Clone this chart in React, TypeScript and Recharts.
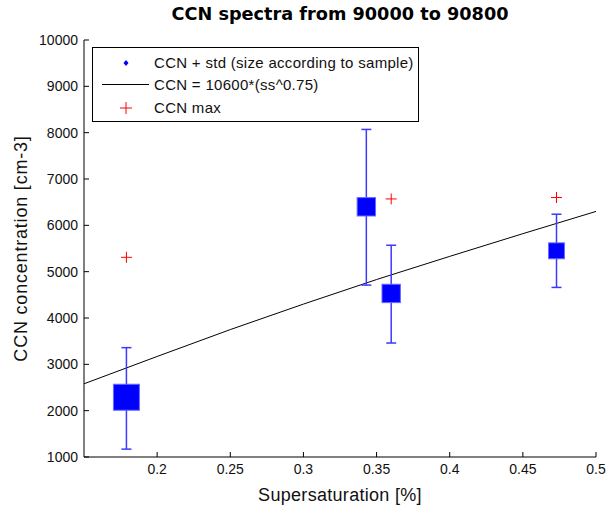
import React from "react";
import {
  ComposedChart,
  Scatter,
  Line,
  XAxis,
  YAxis,
  ZAxis,
  ErrorBar,
  Label,
} from "recharts";

// mean CCN per supersaturation step, with std spread and sample count
const supersat = [0.179, 0.343, 0.36, 0.473];
const ccnMean = [2290, 6400, 4530, 5450];
const ccnStdLow = [1120, 1690, 1070, 790];
const ccnStdHigh = [1070, 1670, 1040, 790];
const sampleCount = [40, 20, 20, 15];

// max CCN observed
const maxSupersat = [0.179, 0.36, 0.473];
const ccnMax = [5310, 6570, 6600];

// fitted curve CCN = 10600*(ss^0.75)
const fitSupersat = [0.15, 0.2, 0.25, 0.3, 0.35, 0.4, 0.45, 0.5];
const fitCcn = [2580, 3170, 3750, 4300, 4830, 5330, 5820, 6300];

const xTicks = [0.2, 0.25, 0.3, 0.35, 0.4, 0.45, 0.5];
const yTicks = [1000, 2000, 3000, 4000, 5000, 6000, 7000, 8000, 9000, 10000];

const FONT = "'Liberation Sans', Arial, Helvetica, sans-serif";
const TICK_MARGIN = 6;
const IN = 5;

const meanData = supersat.map((x, i) => ({
  x,
  y: ccnMean[i],
  n: sampleCount[i],
  err: [ccnStdLow[i], ccnStdHigh[i]],
}));
const maxData = maxSupersat.map((x, i) => ({ x, y: ccnMax[i] }));
const fitData = fitSupersat.map((x, i) => ({ x, y: fitCcn[i] }));

function BottomTick({ x, y, payload }: any) {
  const axisY = y - TICK_MARGIN;
  return (
    <g>
      <line x1={x} x2={x} y1={axisY} y2={axisY - IN} stroke="#000" />
      <text x={x} y={y} dy="0.75em" textAnchor="middle" fontSize={14} fontFamily={FONT} fill="#111">
        {payload.value}
      </text>
    </g>
  );
}

function LeftTick({ x, y, payload }: any) {
  const axisX = x + TICK_MARGIN;
  return (
    <g>
      <line x1={axisX} x2={axisX + IN} y1={y} y2={y} stroke="#000" />
      <text x={x} y={y} dy="0.36em" textAnchor="end" fontSize={14} fontFamily={FONT} fill="#111">
        {payload.value}
      </text>
    </g>
  );
}

function TopTick({ x, y }: any) {
  const axisY = y + TICK_MARGIN;
  return <line x1={x} x2={x} y1={axisY} y2={axisY + IN} stroke="#000" />;
}

function RightTick({ x, y }: any) {
  const axisX = x - TICK_MARGIN;
  return <line x1={axisX} x2={axisX - IN} y1={y} y2={y} stroke="#000" />;
}

function SquareShape(props: any) {
  const { cx, cy, width } = props;
  if (cx == null || cy == null) return null;
  const s = width;
  return <rect x={cx - s / 2} y={cy - s / 2} width={s} height={s} fill="#0000ff" stroke="#6a6aff" strokeWidth={1} />;
}

function PlusShape(props: any) {
  const { cx, cy } = props;
  if (cx == null || cy == null) return null;
  const r = 5.5;
  return (
    <g stroke="#ff0000" strokeWidth={1}>
      <line x1={cx - r} x2={cx + r} y1={cy} y2={cy} />
      <line x1={cx} x2={cx} y1={cy - r} y2={cy + r} />
    </g>
  );
}

function LegendBox() {
  const row = {
    position: "absolute" as const,
    left: 61,
    fontSize: 15,
    letterSpacing: 0.3,
    fontFamily: FONT,
    color: "#111",
    lineHeight: "17px",
    whiteSpace: "nowrap" as const,
  };
  return (
    <div
      style={{
        position: "absolute",
        left: 92,
        top: 47,
        width: 327,
        height: 75,
        background: "#fff",
        border: "1px solid #000",
        boxSizing: "border-box",
      }}
    >
      <svg width={60} height={74} style={{ position: "absolute", left: 0, top: 0 }}>
        <path d="M33 12 L35.5 15 L33 18 L30.5 15 Z" fill="#0000ff" />
        <line x1={9} x2={56} y1={36.5} y2={36.5} stroke="#000" />
        <line x1={27} x2={39} y1={60} y2={60} stroke="#ff0000" />
        <line x1={33} x2={33} y1={54} y2={66} stroke="#ff0000" />
      </svg>
      <div style={{ ...row, top: 6 }}>CCN + std (size according to sample)</div>
      <div style={{ ...row, top: 27.5 }}>CCN = 10600*(ss^0.75)</div>
      <div style={{ ...row, top: 51 }}>CCN max</div>
    </div>
  );
}

export default function App() {
  return (
    <div style={{ position: "absolute", left: 0, top: 0, width: 610, height: 508, background: "#fff" }}>
      <div
        style={{
          position: "absolute",
          top: 4,
          left: 84,
          width: 512,
          textAlign: "center",
          fontFamily: "'DejaVu Sans', Verdana, sans-serif",
          fontWeight: "bold",
          fontSize: 17.7,
          color: "#000",
          whiteSpace: "nowrap",
        }}
      >
        CCN spectra from 90000 to 90800
      </div>
      <ComposedChart
        width={610}
        height={508}
        margin={{ top: 40, right: 14, bottom: 0, left: 0 }}
      >
        <XAxis
          xAxisId="b"
          type="number"
          dataKey="x"
          domain={[0.15, 0.5]}
          ticks={xTicks}
          allowDataOverflow
          height={51}
          tickSize={0}
          tickMargin={TICK_MARGIN}
          tickLine={false}
          tick={<BottomTick />}
          axisLine={{ stroke: "#000" }}
        >
          <Label
            value="Supersaturation [%]"
            position="insideBottom"
            offset={7}
            style={{ fontFamily: FONT, fontSize: 18, letterSpacing: 0.3, fill: "#111" }}
          />
        </XAxis>
        <XAxis
          xAxisId="t"
          orientation="top"
          type="number"
          dataKey="x"
          domain={[0.15, 0.5]}
          ticks={xTicks}
          allowDataOverflow
          height={0}
          tickSize={0}
          tickMargin={TICK_MARGIN}
          tickLine={false}
          tick={<TopTick />}
          axisLine={{ stroke: "#000" }}
        />
        <YAxis
          yAxisId="l"
          type="number"
          domain={[1000, 10000]}
          ticks={yTicks}
          allowDataOverflow
          width={84}
          tickSize={0}
          tickMargin={TICK_MARGIN}
          tickLine={false}
          tick={<LeftTick />}
          axisLine={{ stroke: "#000" }}
        >
          <Label
            value="CCN concentration [cm-3]"
            angle={-90}
            position="insideLeft"
            offset={21}
            style={{ textAnchor: "middle", fontFamily: FONT, fontSize: 18, letterSpacing: 0.8, fill: "#111" }}
          />
        </YAxis>
        <YAxis
          yAxisId="r"
          orientation="right"
          type="number"
          domain={[1000, 10000]}
          ticks={yTicks}
          allowDataOverflow
          width={0}
          tickSize={0}
          tickMargin={TICK_MARGIN}
          tickLine={false}
          tick={<RightTick />}
          axisLine={{ stroke: "#000" }}
        />
        <ZAxis zAxisId="z" dataKey="n" type="number" domain={[0, 40]} range={[0, 531]} />
        <ZAxis zAxisId="z0" type="number" range={[100, 100]} />
        <Line
          xAxisId="b"
          yAxisId="l"
          data={fitData}
          dataKey="y"
          type="linear"
          stroke="#000"
          strokeWidth={1}
          dot={false}
          activeDot={false}
          isAnimationActive={false}
        />
        <Scatter
          xAxisId="b"
          yAxisId="l"
          zAxisId="z"
          data={meanData}
          dataKey="y"
          shape={<SquareShape />}
          isAnimationActive={false}
        >
          <ErrorBar dataKey="err" direction="y" width={5} stroke="#3a3aff" strokeWidth={1.5} />
        </Scatter>
        <Scatter
          xAxisId="b"
          yAxisId="l"
          zAxisId="z0"
          data={maxData}
          dataKey="y"
          shape={<PlusShape />}
          isAnimationActive={false}
        />
      </ComposedChart>
      <LegendBox />
    </div>
  );
}
